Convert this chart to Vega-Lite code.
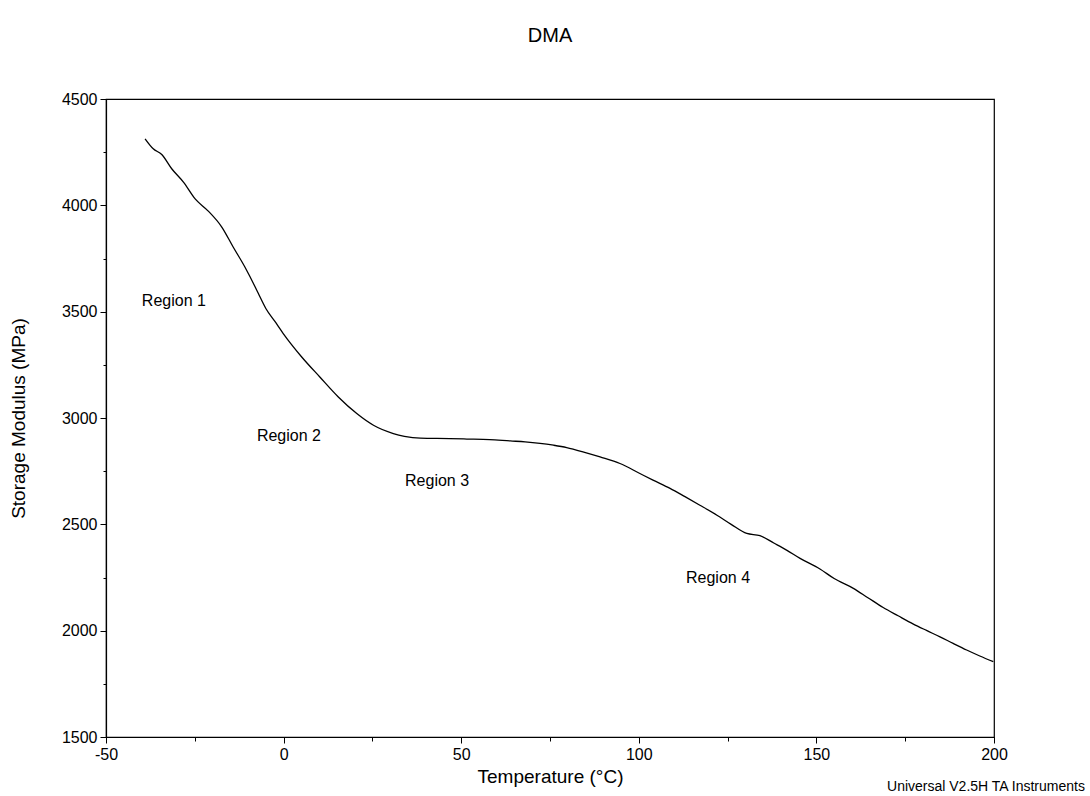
{
  "$schema": "https://vega.github.io/schema/vega-lite/v6.json",
  "autosize": {"type": "none"},
  "padding": {"left": 106, "top": 99, "right": 96, "bottom": 59},
  "width": 888,
  "height": 638,
  "background": "white",
  "config": {
    "font": "Liberation Sans",
    "view": {"stroke": "black", "strokeWidth": 1.2},
    "axis": {"domainColor": "black", "tickColor": "black", "labelColor": "black", "titleColor": "black", "grid": false, "labelFont": "Liberation Sans", "titleFont": "Liberation Sans", "titleFontWeight": "normal"}
  },
  "title": {"text": "DMA", "fontSize": 20, "fontWeight": "normal", "font": "Liberation Sans", "offset": 45, "color": "black"},
  "datasets": {
    "curve": [
      {"T": -39.0, "E": 4313}, {"T": -36.7, "E": 4266}, {"T": -34.3, "E": 4239}, {"T": -31.5, "E": 4172},
      {"T": -28.2, "E": 4109}, {"T": -24.9, "E": 4030}, {"T": -21.2, "E": 3973}, {"T": -17.4, "E": 3898},
      {"T": -14.2, "E": 3804}, {"T": -10.9, "E": 3710}, {"T": -8.0, "E": 3616}, {"T": -7.1, "E": 3585},
      {"T": -5.0, "E": 3515}, {"T": -2.5, "E": 3455}, {"T": -0.1, "E": 3397}, {"T": 5.1, "E": 3287},
      {"T": 10.2, "E": 3193}, {"T": 15.4, "E": 3099}, {"T": 20.6, "E": 3021}, {"T": 25.3, "E": 2966},
      {"T": 30.9, "E": 2927}, {"T": 34.0, "E": 2914}, {"T": 38.5, "E": 2905}, {"T": 46.8, "E": 2903},
      {"T": 51.6, "E": 2901}, {"T": 58.0, "E": 2898}, {"T": 63.8, "E": 2892}, {"T": 68.0, "E": 2888},
      {"T": 72.2, "E": 2881}, {"T": 76.0, "E": 2872}, {"T": 79.7, "E": 2861}, {"T": 84.5, "E": 2840},
      {"T": 89.1, "E": 2817}, {"T": 94.7, "E": 2786}, {"T": 100.3, "E": 2739}, {"T": 104.0, "E": 2708},
      {"T": 108.8, "E": 2669}, {"T": 113.0, "E": 2630}, {"T": 117.2, "E": 2590}, {"T": 122.0, "E": 2543},
      {"T": 126.0, "E": 2500}, {"T": 130.4, "E": 2457}, {"T": 134.1, "E": 2447}, {"T": 138.0, "E": 2412},
      {"T": 141.6, "E": 2379}, {"T": 145.4, "E": 2340}, {"T": 151.0, "E": 2290}, {"T": 155.0, "E": 2245},
      {"T": 160.4, "E": 2199}, {"T": 164.5, "E": 2155}, {"T": 168.8, "E": 2109}, {"T": 173.0, "E": 2070},
      {"T": 177.3, "E": 2031}, {"T": 181.0, "E": 2001}, {"T": 184.8, "E": 1971}, {"T": 188.5, "E": 1940},
      {"T": 192.3, "E": 1909}, {"T": 196.0, "E": 1881}, {"T": 199.8, "E": 1854}
    ],
    "labels": [
      {"T": -30.9, "E": 3549, "label": "Region 1"},
      {"T": 1.5, "E": 2914, "label": "Region 2"},
      {"T": 43.2, "E": 2703, "label": "Region 3"},
      {"T": 122.3, "E": 2247, "label": "Region 4"}
    ],
    "footer": [
      {"T": 225.6, "E": 1265, "label": "Universal V2.5H TA Instruments"}
    ]
  },
  "layer": [
    {
      "data": {"name": "curve"},
      "mark": {"type": "line", "color": "black", "strokeWidth": 1.3, "interpolate": "monotone"},
      "encoding": {
        "x": {
          "field": "T", "type": "quantitative",
          "scale": {"domain": [-50, 200], "nice": false, "zero": false},
          "axis": {
            "title": "Temperature (°C)", "titleFontSize": 19, "titlePadding": 5,
            "values": [-50, -25, 0, 25, 50, 75, 100, 125, 150, 175, 200],
            "labelExpr": "datum.value % 50 === 0 ? '' + datum.value : ''",
            "labelFontSize": 16, "labelPadding": 3, "labelFlush": false,
            "tickSize": {"expr": "datum.value % 50 === 0 ? 6 : 4"},
            "domainWidth": 1.2
          }
        },
        "y": {
          "field": "E", "type": "quantitative",
          "scale": {"domain": [1500, 4500], "nice": false, "zero": false},
          "axis": {
            "title": "Storage Modulus (MPa)", "titleFontSize": 19, "titlePadding": 33,
            "values": [1500, 1750, 2000, 2250, 2500, 2750, 3000, 3250, 3500, 3750, 4000, 4250, 4500],
            "labelExpr": "datum.value % 500 === 0 ? '' + datum.value : ''",
            "labelFontSize": 16, "labelPadding": 3, "labelFlush": false,
            "tickSize": {"expr": "datum.value % 500 === 0 ? 6 : 3"},
            "domainWidth": 1.2
          }
        }
      }
    },
    {
      "data": {"name": "labels"},
      "mark": {"type": "text", "fontSize": 16, "color": "black", "align": "center", "baseline": "middle", "font": "Liberation Sans"},
      "encoding": {
        "x": {"field": "T", "type": "quantitative"},
        "y": {"field": "E", "type": "quantitative"},
        "text": {"field": "label"}
      }
    },
    {
      "data": {"name": "footer"},
      "mark": {"type": "text", "fontSize": 14, "color": "black", "align": "right", "baseline": "middle", "font": "Liberation Sans"},
      "encoding": {
        "x": {"field": "T", "type": "quantitative"},
        "y": {"field": "E", "type": "quantitative"},
        "text": {"field": "label"}
      }
    }
  ]
}
